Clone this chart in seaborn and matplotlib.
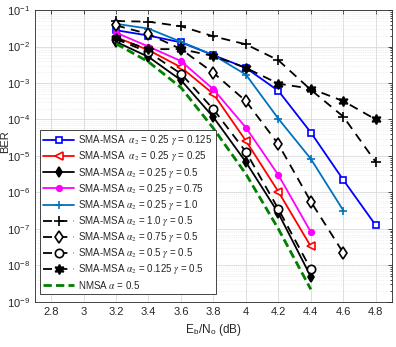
import numpy as np
import pandas as pd
import seaborn as sns
import matplotlib
matplotlib.use("Agg")
import matplotlib.pyplot as plt
import matplotlib.ticker as ticker

# Eb/No axis (dB)
snr = [3.2, 3.4, 3.6, 3.8, 4.0, 4.2, 4.4, 4.6, 4.8]

# BER
ber_g0125 = [0.028, 0.020, 0.013, 0.0058, 0.0026, 6.1e-4, 4.4e-5, 2.2e-6, 1.25e-7]
ber_g025 = [0.018, 0.008, 0.0027, 5.0e-4, 2.6e-5, 1.05e-6, 3.3e-8]
ber_g05 = [0.0135, 0.0052, 0.0012, 1.15e-4, 6.8e-6, 2.7e-7, 4.9e-9]
ber_g075 = [0.024, 0.010, 0.004, 6.7e-4, 6.0e-5, 3.0e-6, 8.2e-8]
ber_g10 = [0.042, 0.031, 0.0135, 0.0058, 1.7e-3, 1.05e-4, 8.3e-6, 3.2e-7]
ber_a10 = [0.050, 0.048, 0.036, 0.019, 0.0115, 0.0042, 6.5e-4, 1.2e-4, 6.8e-6]
ber_a075 = [0.038, 0.022, 0.0085, 0.0019, 3.2e-4, 2.1e-5, 5.6e-7, 2.2e-8]
ber_a05 = [0.016, 0.007, 0.0018, 1.9e-4, 1.3e-5, 3.5e-7, 7.8e-9]
ber_a0125 = [0.0167, 0.0085, 0.0085, 0.0055, 0.0026, 9.6e-4, 7.0e-4, 3.2e-4, 1.0e-4]
ber_nmsa = [0.012, 0.0038, 7.5e-4, 5.7e-5, 3.2e-6, 1.0e-7, 2.2e-9]

labels = [
    r"SMA-MSA  $\alpha_2$ = 0.25 $\gamma$ = 0.125",
    r"SMA-MSA  $\alpha_2$ = 0.25 $\gamma$ = 0.25",
    r"SMA-MSA $\alpha_2$ = 0.25 $\gamma$ = 0.5",
    r"SMA-MSA $\alpha_2$ = 0.25 $\gamma$ = 0.75",
    r"SMA-MSA $\alpha_2$ = 0.25 $\gamma$ = 1.0",
    r"SMA-MSA $\alpha_2$ = 1.0 $\gamma$ = 0.5",
    r"SMA-MSA $\alpha_2$ = 0.75 $\gamma$ = 0.5",
    r"SMA-MSA $\alpha_2$ = 0.5 $\gamma$ = 0.5",
    r"SMA-MSA $\alpha_2$ = 0.125 $\gamma$ = 0.5",
    r"NMSA $\alpha$ = 0.5",
]

sns.set_style("white")
plt.rcParams['font.family'] = ['Liberation Sans', 'DejaVu Sans']
plt.rcParams['mathtext.fontset'] = 'stix'

fig, ax = plt.subplots(figsize=(3.96, 3.47), dpi=100)
fig.subplots_adjust(left=0.088, right=0.990, bottom=0.130, top=0.971)

blue = (0, 0, 1)
red = (1, 0, 0)
mag = (1, 0, 1)
cyan = (0, 0.447, 0.741)
green = (0, 0.5, 0)

# (data, color, marker, filled, linestyle, marker size, line width)
styles = [
    (ber_g0125, blue, "s", False, "-", 4.5, 1.3),
    (ber_g025, red, "<", False, "-", 6, 1.3),
    (ber_g05, "black", "d", True, "-", 5.5, 1.3),
    (ber_g075, mag, "o", True, "-", 4, 1.3),
    (ber_g10, cyan, "+", True, "-", 6, 1.3),
    (ber_a10, "black", "+", True, (0, (5, 3.5)), 6.5, 1.3),
    (ber_a075, "black", "d", False, (0, (5, 3.5)), 6, 1.3),
    (ber_a05, "black", "o", False, (0, (5, 3.5)), 6, 1.3),
    (ber_a0125, "black", (6, 1, 0), True, (0, (5, 3.5)), 7, 1.3),
    (ber_nmsa, green, None, True, (0, (3, 1.5)), 0, 2.0),
]

for (vals, col, mk, filled, ls, ms, lw), lab in zip(styles, labels):
    df = pd.DataFrame({"snr": snr[:len(vals)], "ber": vals})
    kw = dict(color=col, linestyle=ls, linewidth=lw, label=lab)
    if mk is not None:
        kw.update(marker=mk, markersize=ms, markeredgecolor=col,
                  markerfacecolor=col if filled else "white",
                  markeredgewidth=1.2)
    sns.lineplot(data=df, x="snr", y="ber", ax=ax, estimator=None, sort=False, **kw)

ax.set_yscale("log")
ax.set_xlim(2.7, 4.9)
ax.set_ylim(1e-9, 1e-1)

xt = [2.8, 3.0, 3.2, 3.4, 3.6, 3.8, 4.0, 4.2, 4.4, 4.6, 4.8]
ax.set_xticks(xt)
ax.set_xticklabels([f"{v:g}" for v in xt])
ax.yaxis.set_major_locator(ticker.LogLocator(base=10, numticks=20))
ax.yaxis.set_minor_locator(ticker.LogLocator(base=10, subs=np.arange(2, 10), numticks=100))
ax.yaxis.set_minor_formatter(ticker.NullFormatter())

ax.grid(which="major", color="#d9d9d9", linewidth=0.6, linestyle="-")
ax.grid(which="minor", axis="y", color="#e3e3e3", linewidth=0.5, linestyle=":")
ax.set_axisbelow(True)

ax.tick_params(axis="both", which="both", direction="in", top=True, right=True,
               labelsize=8, colors="#262626", width=0.6)
ax.tick_params(axis="both", which="major", length=3)
ax.tick_params(axis="y", which="minor", length=1.5)
for s in ax.spines.values():
    s.set_color("#262626")
    s.set_linewidth(0.6)

ax.set_xlabel(r"E$_\mathregular{b}$/N$_\mathregular{o}$ (dB)", fontsize=8.5, color="#262626", labelpad=4)
ax.set_ylabel("BER", fontsize=8, color="#262626")
ax.yaxis.set_label_coords(-0.068, 0.55)

leg = ax.legend(loc="lower left", bbox_to_anchor=(0.014, 0.027), borderaxespad=0,
                fontsize=7, frameon=True, fancybox=False, edgecolor="#262626",
                framealpha=1, handlelength=3.2, labelspacing=0.22, borderpad=0.35,
                handletextpad=0.4)
leg.get_frame().set_linewidth(0.6)

plt.savefig("out.png", dpi=100)
